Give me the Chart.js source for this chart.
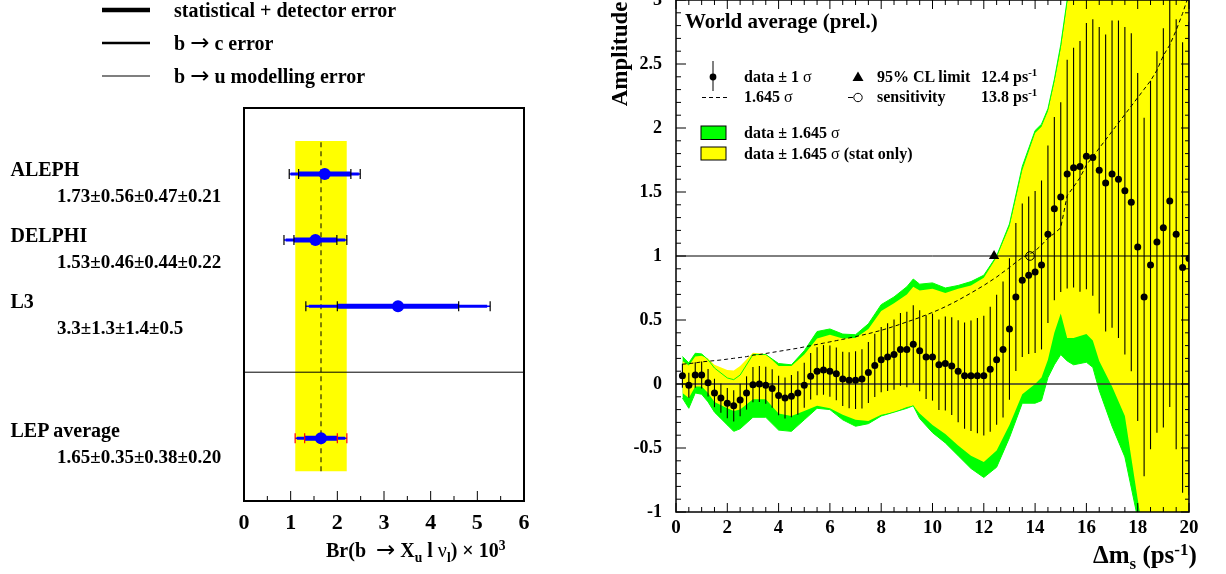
<!DOCTYPE html>
<html>
<head>
<meta charset="utf-8">
<script src="https://cdn.jsdelivr.net/npm/chart.js@4.4.1/dist/chart.umd.min.js"></script>
<style>
html, body { margin: 0; padding: 0; background: #fff; }
#page { position: relative; width: 1226px; height: 574px; overflow: hidden;
        font-family: 'Liberation Serif', 'Times New Roman', serif; font-weight: bold; color: #000; }
canvas { position: absolute; top: 0; }
svg { position: absolute; left: 0; top: 0; }
.t { position: absolute; line-height: 1; white-space: nowrap; }
.sub { position: relative; font-size: 0.68em; top: 0.35em; line-height: 0; }
.sup { position: relative; font-size: 0.68em; top: -0.5em; line-height: 0; }
.n { font-weight: normal; }
.ar { font-family: 'DejaVu Sans', sans-serif; font-weight: normal; font-size: 1.15em; line-height: 0; }
</style>
</head>
<body>
<div id="page">
  <canvas id="brChart" width="560" height="574" style="left:0"></canvas>
  <canvas id="ampChart" width="626" height="574" style="left:600px"></canvas>
  <svg width="1226" height="574" stroke="#000" fill="#000">
    <!-- legend of the left panel -->
    <line x1="102" y1="10" x2="150" y2="10" stroke-width="4.5"/>
    <line x1="102" y1="43" x2="150" y2="43" stroke-width="2.5"/>
    <line x1="102" y1="76" x2="150" y2="76" stroke-width="1.2"/>
    <!-- legend of the right panel -->
    <line x1="713" y1="61" x2="713" y2="91" stroke-width="1"/>
    <circle cx="713" cy="77" r="3.4" stroke="none"/>
    <polygon points="858,71.5 863.5,81 852.5,81" stroke="none"/>
    <line x1="702" y1="97.5" x2="727" y2="97.5" stroke-width="1" stroke-dasharray="4,3"/>
    <line x1="848" y1="97.5" x2="853" y2="97.5" stroke-width="1"/>
    <circle cx="858" cy="97.5" r="4.2" fill="none" stroke-width="1"/>
    <rect x="701" y="126" width="25" height="13.5" fill="#00ff00" stroke-width="1"/>
    <rect x="701" y="147" width="25" height="13" fill="#ffff00" stroke-width="1"/>
  </svg>
</div>
<script>
// ---- left panel : Br(b -> Xu l nu) ----
const experiments = ['ALEPH', 'DELPHI', 'L3', 'LEP average'];
const brValue     = [1.73, 1.53, 3.3, 1.65];
const errStatDet  = [0.56, 0.46, 1.3, 0.35];
const errBc       = [0.47, 0.44, 1.4, 0.38];
const errBu       = [0.21, 0.22, 0.5, 0.20];
const brDecimals  = [2, 2, 1, 2];
const rowPos      = [5, 4, 3, 1];
const separatorPos = 2;
const bandRows    = [0.5, 5.5];

// ---- right panel : amplitude scan ----
const dms = [0.25, 0.5, 0.75, 1, 1.25, 1.5, 1.75, 2, 2.25, 2.5, 2.75, 3, 3.25, 3.5, 3.75, 4, 4.25, 4.5, 4.75, 5,
  5.25, 5.5, 5.75, 6, 6.25, 6.5, 6.75, 7, 7.25, 7.5, 7.75, 8, 8.25, 8.5, 8.75, 9, 9.25, 9.5, 9.75, 10,
  10.25, 10.5, 10.75, 11, 11.25, 11.5, 11.75, 12, 12.25, 12.5, 12.75, 13, 13.25, 13.5, 13.75, 14, 14.25, 14.5, 14.75, 15,
  15.25, 15.5, 15.75, 16, 16.25, 16.5, 16.75, 17, 17.25, 17.5, 17.75, 18, 18.25, 18.5, 18.75, 19, 19.25, 19.5, 19.75, 20];
const amplitude = [0.065, -0.01, 0.07, 0.07, 0.01, -0.07, -0.11, -0.15, -0.17, -0.125, -0.07, -0.005, 0.0, -0.01, -0.035, -0.09, -0.11, -0.095, -0.07, -0.01,
  0.06, 0.10, 0.11, 0.10, 0.08, 0.04, 0.03, 0.03, 0.04, 0.09, 0.145, 0.19, 0.21, 0.23, 0.27, 0.27, 0.31, 0.26, 0.21, 0.21,
  0.15, 0.16, 0.14, 0.10, 0.065, 0.065, 0.065, 0.065, 0.115, 0.19, 0.27, 0.43, 0.68, 0.81, 0.85, 0.875, 0.93, 1.17, 1.37, 1.46,
  1.64, 1.69, 1.70, 1.78, 1.77, 1.67, 1.57, 1.64, 1.60, 1.51, 1.42, 1.07, 0.68, 0.93, 1.11, 1.22, 1.43, 1.17, 0.91, 0.98];
const sigma = [0.094, 0.097, 0.10, 0.105, 0.108, 0.111, 0.114, 0.118, 0.122, 0.126, 0.13, 0.137, 0.14, 0.145, 0.15, 0.155, 0.16, 0.165, 0.17, 0.176,
  0.182, 0.188, 0.194, 0.20, 0.206, 0.212, 0.219, 0.225, 0.232, 0.239, 0.247, 0.255, 0.264, 0.274, 0.284, 0.295, 0.305, 0.316, 0.328, 0.34,
  0.353, 0.367, 0.382, 0.398, 0.415, 0.432, 0.45, 0.468, 0.488, 0.508, 0.531, 0.553, 0.578, 0.60, 0.615, 0.632, 0.66, 0.693, 0.715, 0.742,
  0.894, 0.936, 0.98, 1.04, 1.08, 1.12, 1.16, 1.20, 1.24, 1.28, 1.32, 1.36, 1.40, 1.44, 1.49, 1.56, 1.61, 1.68, 1.76, 1.85];

// band edges (data +- 1.645 sigma, total and stat only)
const bandX = [0.25, 0.5, 0.75, 1, 1.25, 1.5, 2, 2.25, 2.5, 3, 3.5, 4, 4.5, 5, 5.5, 6, 6.5, 7, 7.5, 8, 8.5, 9,
  9.25, 9.5, 10, 10.5, 11, 11.5, 12, 12.5, 13, 13.5, 14, 14.25, 14.5, 14.75, 15, 15.25, 15.5, 16, 16.25, 16.5, 17, 17.5, 18, 18.5, 19, 19.5, 20];
const greenHi = [0.215, 0.165, 0.24, 0.235, 0.19, 0.125, 0.047, 0.034, 0.07, 0.23, 0.23, 0.16, 0.15, 0.26, 0.41, 0.43, 0.39, 0.385, 0.47, 0.62, 0.68, 0.76,
  0.82, 0.78, 0.79, 0.75, 0.77, 0.80, 0.85, 1.0, 1.25, 1.70, 1.98, 2.03, 2.15, 2.38, 2.65, 3.0, 3.23, 3.49, 3.55, 3.51, 3.61, 3.61, 3.31, 3.3, 3.79, 3.93, 4.02];
const yellowHi = [0.18, 0.145, 0.215, 0.22, 0.2, 0.15, 0.11, 0.105, 0.14, 0.245, 0.235, 0.14, 0.14, 0.23, 0.355, 0.385, 0.355, 0.36, 0.43, 0.57, 0.63, 0.70,
  0.76, 0.73, 0.745, 0.71, 0.745, 0.77, 0.83, 0.99, 1.23, 1.67, 1.96, 2.01, 2.13, 2.36, 2.62, 2.98, 3.2, 3.45, 3.5, 3.45, 3.55, 3.55, 3.25, 3.25, 3.7, 3.85, 3.95];
const yellowLo = [-0.07, -0.11, -0.02, -0.02, -0.07, -0.14, -0.19, -0.21, -0.2, -0.12, -0.12, -0.23, -0.25, -0.21, -0.17, -0.19, -0.24, -0.28, -0.29, -0.24, -0.22, -0.18,
  -0.17, -0.23, -0.32, -0.39, -0.48, -0.56, -0.61, -0.52, -0.32, -0.08, 0.0, 0.05, 0.19, 0.40, 0.55, 0.36, 0.36, 0.39, 0.34, 0.18, -0.02, -0.25, -0.9, -1.5, -1.5, -1.5, -1.5];
const greenLo = [-0.11, -0.19, -0.07, -0.08, -0.14, -0.22, -0.32, -0.37, -0.35, -0.26, -0.26, -0.36, -0.37, -0.28, -0.19, -0.20, -0.28, -0.33, -0.31, -0.25, -0.22, -0.19,
  -0.17, -0.27, -0.38, -0.46, -0.56, -0.66, -0.73, -0.65, -0.42, -0.15, -0.15, -0.13, 0.05, 0.15, 0.23, 0.18, 0.15, 0.17, 0.13, -0.05, -0.33, -0.57, -1.05, -1.6, -1.6, -1.6, -1.6];
const limit95 = 12.4;
const sensitivity = 13.8;

const fontF = "'Liberation Serif', 'Times New Roman', serif";
const GREEN = '#00ff00', YELLOW = '#ffff00', BLUE = '#0000ff';
const ARROW = '<span class="ar">→</span>';

// ---- helpers ----
const page = document.getElementById('page');
function addText(html, x, base, size, extra) {
    const d = document.createElement('div');
    d.className = 't';
    d.innerHTML = html;
    d.style.left = x + 'px';
    d.style.top = (base - 0.8375 * size) + 'px';
    d.style.fontSize = size + 'px';
    if (extra) Object.assign(d.style, extra);
    page.appendChild(d);
    return d;
}
const seg = (x0, x1, y) => [{ x: x0, y: y }, { x: x1, y: y }];
const xy = (xs, ys) => xs.map((x, i) => ({ x: x, y: ys[i] }));

// frame with inward ticks (ROOT style)
const framePlugin = {
    id: 'frame',
    afterDraw(chart, args, opts) {
        const { ctx, chartArea: a, scales } = chart;
        ctx.save();
        ctx.strokeStyle = '#000';
        ctx.lineWidth = opts.lineWidth || 1.5;
        ctx.strokeRect(a.left, a.top, a.right - a.left, a.bottom - a.top);
        ctx.lineWidth = 1;
        (opts.ticks || []).forEach(t => {
            const sc = scales[t.axis];
            for (let i = 0; ; i++) {
                const v = sc.min + i * t.minor;
                if (v > sc.max + 1e-9) break;
                const r = v / t.major;
                const len = Math.abs(r - Math.round(r)) < 1e-6 ? t.long : t.short;
                const p = sc.getPixelForValue(v);
                ctx.beginPath();
                if (t.side === 'bottom') { ctx.moveTo(p, a.bottom); ctx.lineTo(p, a.bottom - len); }
                if (t.side === 'top') { ctx.moveTo(p, a.top); ctx.lineTo(p, a.top + len); }
                if (t.side === 'left') { ctx.moveTo(a.left, p); ctx.lineTo(a.left + len, p); }
                if (t.side === 'right') { ctx.moveTo(a.right, p); ctx.lineTo(a.right - len, p); }
                ctx.stroke();
            }
        });
        ctx.restore();
    }
};

// ================= LEFT PANEL =================
const e2 = errStatDet.map((s, i) => Math.hypot(s, errBc[i]));
const e3 = e2.map((s, i) => Math.hypot(s, errBu[i]));
const bandLo = brValue[3] - e3[3], bandHi = brValue[3] + e3[3];

const brSets = [];
brSets.push({ data: seg(bandLo, bandHi, bandRows[1]), fill: '+1', backgroundColor: YELLOW, borderWidth: 0, pointRadius: 0, order: 20 });
brSets.push({ data: seg(bandLo, bandHi, bandRows[0]), borderWidth: 0, pointRadius: 0, order: 20 });
brSets.push({ data: [{ x: brValue[3], y: bandRows[0] }, { x: brValue[3], y: bandRows[1] }],
    borderColor: '#000', borderWidth: 1, borderDash: [5, 4], pointRadius: 0, order: 15 });
brSets.push({ data: seg(0, 6, separatorPos), borderColor: '#000', borderWidth: 1, pointRadius: 0, order: 15 });
experiments.forEach((name, i) => {
    [[e3[i], 1.5], [e2[i], 3], [errStatDet[i], 5]].forEach(([e, w]) => {
        brSets.push({ data: seg(brValue[i] - e, brValue[i] + e, rowPos[i]), borderColor: BLUE, borderWidth: w,
            pointRadius: 0, order: 10 });
    });
});
brSets.push({ label: 'points', data: xy(brValue, rowPos), showLine: false, pointRadius: 6,
    backgroundColor: BLUE, borderWidth: 0, order: 1 });

const brTickPlugin = {
    id: 'brTicks',
    afterDatasetsDraw(chart) {
        const { ctx, scales: { x, y } } = chart;
        ctx.save();
        ctx.lineWidth = 1.2;
        experiments.forEach((name, i) => {
            ctx.strokeStyle = i === 3 ? '#ff0000' : '#000';
            const py = y.getPixelForValue(rowPos[i]);
            [-e3[i], -errStatDet[i], errStatDet[i], e3[i]].forEach(d => {
                const px = x.getPixelForValue(brValue[i] + d);
                ctx.beginPath(); ctx.moveTo(px, py - 5); ctx.lineTo(px, py + 5); ctx.stroke();
            });
        });
        ctx.restore();
    }
};

new Chart(document.getElementById('brChart'), {
    type: 'line',
    data: { datasets: brSets },
    options: {
        responsive: false, animation: false,
        layout: { autoPadding: false, padding: { left: 244, right: 36, top: 108, bottom: 0 } },
        plugins: {
            legend: { display: false }, tooltip: { enabled: false },
            frame: { lineWidth: 2, ticks: [{ axis: 'x', side: 'bottom', minor: 0.5, major: 1, long: 10, short: 5 }] }
        },
        scales: {
            x: { type: 'linear', min: 0, max: 6,
                grid: { display: false, drawTicks: false }, border: { display: false },
                ticks: { stepSize: 1, padding: 9, color: '#000', font: { family: fontF, size: 22, weight: 'bold' } },
                afterFit(s) { s.height = 73; s.paddingLeft = 0; s.paddingRight = 0; } },
            y: { type: 'linear', display: false, min: 0.05, max: 6 }
        }
    },
    plugins: [framePlugin, brTickPlugin]
});

// labels of the left panel
addText('statistical + detector error', 174, 17, 20);
addText('b ' + ARROW + ' c error', 174, 50, 20);
addText('b ' + ARROW + ' u modelling error', 174, 83, 20);
const nameBase = [176, 241.7, 307.7, 437];
experiments.forEach((name, i) => {
    const d = brDecimals[i];
    addText(name, 10.5, nameBase[i], 20);
    addText([brValue[i], errStatDet[i], errBc[i], errBu[i]].map(v => v.toFixed(d)).join('±'), 57, nameBase[i] + 25.8, 19);
});
addText('Br(b&nbsp; ' + ARROW + ' X<span class="sub">u</span> l <span class="n">ν</span><span class="sub">l</span>) × 10<span class="sup">3</span>', 326, 557, 20);

// ================= RIGHT PANEL =================
const errorBarPlugin = {
    id: 'errorBars',
    beforeDatasetDraw(chart, args) {
        if (chart.data.datasets[args.index].label !== 'amplitude') return;
        const { ctx, chartArea: a, scales: { x, y } } = chart;
        ctx.save();
        ctx.beginPath(); ctx.rect(a.left, a.top, a.right - a.left, a.bottom - a.top); ctx.clip();
        ctx.strokeStyle = '#000';
        ctx.lineWidth = 1.1;
        dms.forEach((m, i) => {
            const px = x.getPixelForValue(m);
            ctx.beginPath();
            ctx.moveTo(px, y.getPixelForValue(amplitude[i] - sigma[i]));
            ctx.lineTo(px, y.getPixelForValue(amplitude[i] + sigma[i]));
            ctx.stroke();
        });
        ctx.restore();
    }
};

const ampSets = [
    { data: xy(bandX, greenHi), fill: '+1', backgroundColor: GREEN, borderWidth: 0, pointRadius: 0, order: 20 },
    { data: xy(bandX, greenLo), borderWidth: 0, pointRadius: 0, order: 20 },
    { data: xy(bandX, yellowHi), fill: '+1', backgroundColor: YELLOW, borderWidth: 0, pointRadius: 0, order: 19 },
    { data: xy(bandX, yellowLo), borderWidth: 0, pointRadius: 0, order: 19 },
    { data: xy(bandX, greenHi), borderColor: GREEN, borderWidth: 1, pointRadius: 0, order: 18 },
    { data: xy(bandX, greenLo), borderColor: GREEN, borderWidth: 1, pointRadius: 0, order: 18 },
    { data: seg(0, 20, 0), borderColor: '#333', borderWidth: 1.5, pointRadius: 0, order: 15 },
    { data: seg(0, 20, 1), borderColor: '#000', borderWidth: 1, pointRadius: 0, order: 15 },
    { data: xy(dms, sigma.map(s => 1.645 * s)), borderColor: '#000', borderWidth: 1, borderDash: [4, 3], pointRadius: 0, order: 12 },
    { label: 'amplitude', data: xy(dms, amplitude), showLine: false, pointRadius: 3.5, backgroundColor: '#000', borderWidth: 0, order: 5 },
    { data: [{ x: limit95, y: 1 }], showLine: false, pointStyle: 'triangle', pointRadius: 6, backgroundColor: '#000', borderWidth: 0, order: 2 },
    { data: [{ x: sensitivity, y: 1 }], showLine: false, pointStyle: 'circle', pointRadius: 4.3, backgroundColor: 'rgba(0,0,0,0)', borderColor: '#000', borderWidth: 1, order: 2 }
];

new Chart(document.getElementById('ampChart'), {
    type: 'line',
    data: { datasets: ampSets },
    options: {
        responsive: false, animation: false,
        layout: { autoPadding: false, padding: { left: 0, right: 37, top: 0, bottom: 0 } },
        plugins: {
            legend: { display: false }, tooltip: { enabled: false },
            frame: { lineWidth: 1.5, ticks: [
                { axis: 'x', side: 'bottom', minor: 0.5, major: 2, long: 9, short: 5 },
                { axis: 'x', side: 'top', minor: 0.5, major: 2, long: 9, short: 5 },
                { axis: 'y', side: 'left', minor: 0.1, major: 0.5, long: 10, short: 5 },
                { axis: 'y', side: 'right', minor: 0.1, major: 0.5, long: 8, short: 4 }
            ] }
        },
        scales: {
            x: { type: 'linear', min: 0, max: 20,
                grid: { display: false, drawTicks: false }, border: { display: false },
                ticks: { stepSize: 2, padding: 5, color: '#000', font: { family: fontF, size: 19, weight: 'bold' } },
                afterFit(s) { s.height = 62; s.paddingLeft = 0; s.paddingRight = 0; } },
            y: { type: 'linear', min: -1, max: 3,
                grid: { display: false, drawTicks: false }, border: { display: false },
                ticks: { stepSize: 0.5, padding: 14, color: '#000', font: { family: fontF, size: 18, weight: 'bold' },
                    callback: v => String(v) },
                afterFit(s) { s.width = 76; s.paddingTop = 0; s.paddingBottom = 0; } }
        }
    },
    plugins: [framePlugin, errorBarPlugin]
});

// labels of the right panel
addText('World average (prel.)', 685, 29, 21);
addText('data ± 1 <span class="n">σ</span>', 744, 82, 16);
addText('95% CL limit', 877, 82, 16);
addText(limit95.toFixed(1) + ' ps<span class="sup">-1</span>', 981, 82, 16);
addText('1.645 <span class="n">σ</span>', 744, 102, 16);
addText('sensitivity', 877, 102, 16);
addText(sensitivity.toFixed(1) + ' ps<span class="sup">-1</span>', 981, 102, 16);
addText('data ± 1.645 <span class="n">σ</span>', 744, 138.5, 16);
addText('data ± 1.645 <span class="n">σ</span> (stat only)', 744, 159, 16);
addText('Δm<span class="sub">s</span> (ps<span class="sup">-1</span>)', 1093, 563, 25);
// vertical axis title, its baseline start pinned at (627, 106)
const ampSize = 23, ampAsc = 0.8375 * ampSize;
addText('Amplitude', 627, 106, ampSize,
    { transform: 'rotate(-90deg)', transformOrigin: '0 ' + ampAsc + 'px' });
</script>
</body>
</html>
